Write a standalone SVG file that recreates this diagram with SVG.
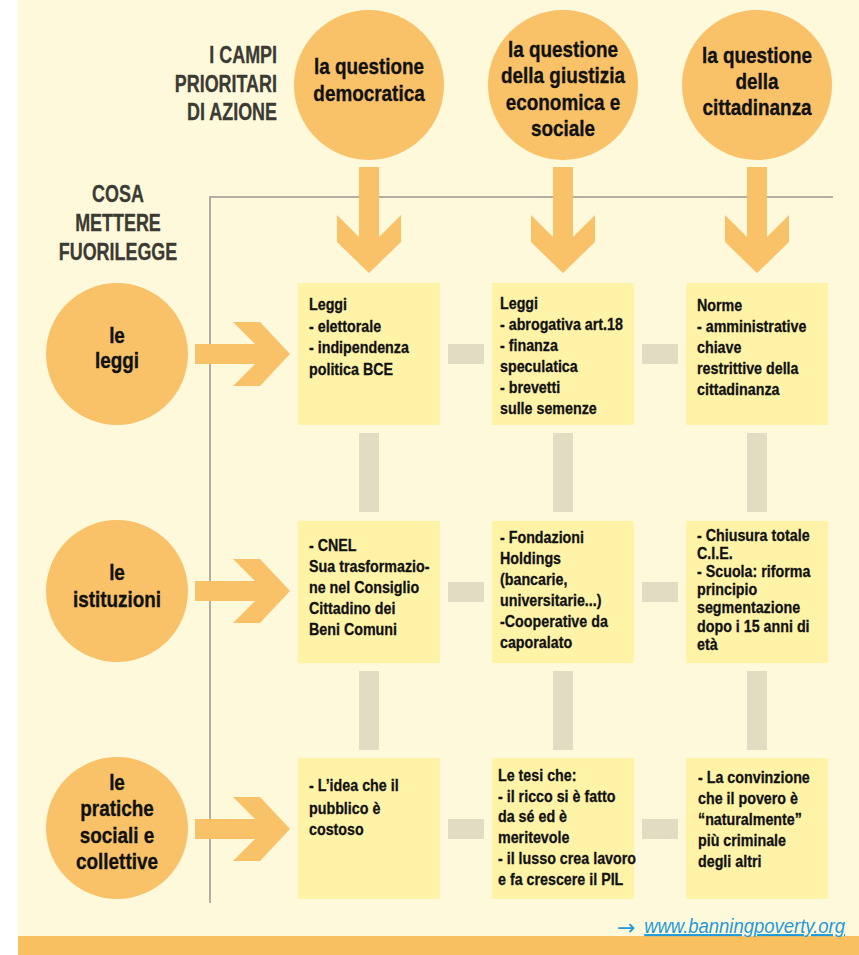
<svg xmlns="http://www.w3.org/2000/svg" width="859" height="955" viewBox="0 0 859 955">
  <style>
    text { font-family: "Liberation Sans", Arial, sans-serif; font-weight: bold; fill: #111; }
    .hdr { font-size: 23px; fill: #3b3a33; stroke: #3b3a33; stroke-width: 0.3; }
    .circ { fill: #F9C168; }
    .ctext { font-size: 22.5px; text-anchor: middle; stroke: #111; stroke-width: 0.35; }
    .box { fill: #FFF3A8; }
    .btext { font-size: 17px; stroke: #111; stroke-width: 0.3; }
    .link { fill: #E2DDC2; }
    .arrow { fill: #F9C168; }
    .frame { fill: none; stroke: #B3AE9F; stroke-width: 2; }
    .url { font-size: 21px; font-weight: normal; fill: #1E9AD8; }
    .urlarrow { font-family: "DejaVu Sans", sans-serif; font-size: 22px; font-weight: normal; fill: #1E9AD8; }
  </style>
  <defs>
    <path id="arrowDown" d="M-10,0 L10,0 L10,70 L32,48 L32,75 L0,106 L-32,75 L-32,48 L-10,70 Z"/>
    <path id="arrowRight" d="M0,-10 L60,-10 L38,-32 L65,-32 L95,0 L65,32 L38,32 L60,10 L0,10 Z"/>
  </defs>

  <!-- page background -->
  <rect x="0" y="0" width="859" height="955" fill="#ffffff"/>
  <rect x="18" y="0" width="841" height="955" fill="#FFF9DC"/>
  <rect x="18" y="936" width="841" height="19" fill="#F9C060"/>

  <!-- frame separating the grid from the headings -->
  <path class="frame" d="M210,903 L210,197 L833,197"/>

  <!-- side headings (condensed by horizontal scaling) -->
  <g id="heading-campi" transform="translate(277,0) scale(0.78,1)">
    <text class="hdr" text-anchor="end" x="0" y="63">I CAMPI</text>
    <text class="hdr" text-anchor="end" x="0" y="92">PRIORITARI</text>
    <text class="hdr" text-anchor="end" x="0" y="120">DI AZIONE</text>
  </g>
  <g id="heading-fuorilegge" transform="translate(118,0) scale(0.78,1)">
    <text class="hdr" text-anchor="middle" x="0" y="202">COSA</text>
    <text class="hdr" text-anchor="middle" x="0" y="231">METTERE</text>
    <text class="hdr" text-anchor="middle" x="0" y="260">FUORILEGGE</text>
  </g>

  <!-- connectors -->
  <g id="connectors">
    <!-- links between the cells -->
    <rect class="link" x="448" y="344" width="36" height="20"/>
    <rect class="link" x="642" y="344" width="36" height="20"/>
    <rect class="link" x="448" y="582" width="36" height="20"/>
    <rect class="link" x="642" y="582" width="36" height="20"/>
    <rect class="link" x="448" y="819" width="36" height="20"/>
    <rect class="link" x="642" y="819" width="36" height="20"/>
    <rect class="link" x="359" y="433" width="20" height="79"/>
    <rect class="link" x="553" y="433" width="20" height="79"/>
    <rect class="link" x="747" y="433" width="20" height="79"/>
    <rect class="link" x="359" y="671" width="20" height="79"/>
    <rect class="link" x="553" y="671" width="20" height="79"/>
    <rect class="link" x="747" y="671" width="20" height="79"/>
    <!-- arrows from the fields -->
    <use href="#arrowDown" class="arrow" x="369" y="167"/>
    <use href="#arrowDown" class="arrow" x="563" y="167"/>
    <use href="#arrowDown" class="arrow" x="757" y="167"/>
    <!-- arrows from the levels -->
    <use href="#arrowRight" class="arrow" x="195" y="354"/>
    <use href="#arrowRight" class="arrow" x="195" y="591"/>
    <use href="#arrowRight" class="arrow" x="195" y="829"/>
  </g>

  <!-- priority fields -->
  <g id="field-democratica">
    <circle class="circ" cx="369" cy="85" r="75"/>
    <g transform="translate(369,0) scale(0.84,1)">
      <text class="ctext" x="0" y="74">la questione</text>
      <text class="ctext" x="0" y="101">democratica</text>
    </g>
  </g>
  <g id="field-giustizia">
    <circle class="circ" cx="563" cy="85" r="75"/>
    <g transform="translate(563,0) scale(0.84,1)">
      <text class="ctext" x="0" y="57">la questione</text>
      <text class="ctext" x="0" y="83">della giustizia</text>
      <text class="ctext" x="0" y="110">economica e</text>
      <text class="ctext" x="0" y="136">sociale</text>
    </g>
  </g>
  <g id="field-cittadinanza">
    <circle class="circ" cx="757" cy="85" r="75"/>
    <g transform="translate(757,0) scale(0.84,1)">
      <text class="ctext" x="0" y="63">la questione</text>
      <text class="ctext" x="0" y="89">della</text>
      <text class="ctext" x="0" y="115">cittadinanza</text>
    </g>
  </g>

  <!-- levels -->
  <g id="level-leggi">
    <circle class="circ" cx="117" cy="354" r="71"/>
    <g transform="translate(117,0) scale(0.84,1)">
      <text class="ctext" x="0" y="343">le</text>
      <text class="ctext" x="0" y="368">leggi</text>
    </g>
  </g>
  <g id="level-istituzioni">
    <circle class="circ" cx="117" cy="591" r="71"/>
    <g transform="translate(117,0) scale(0.84,1)">
      <text class="ctext" x="0" y="580">le</text>
      <text class="ctext" x="0" y="607">istituzioni</text>
    </g>
  </g>
  <g id="level-pratiche">
    <circle class="circ" cx="117" cy="828" r="71"/>
    <g transform="translate(117,0) scale(0.84,1)">
      <text class="ctext" x="0" y="790">le</text>
      <text class="ctext" x="0" y="816">pratiche</text>
      <text class="ctext" x="0" y="843">sociali e</text>
      <text class="ctext" x="0" y="869">collettive</text>
    </g>
  </g>

  <!-- row 1: le leggi -->
  <g id="cell-leggi-democratica">
    <rect class="box" x="298" y="283" width="142" height="142"/>
    <g transform="translate(309,0) scale(0.84,1)">
      <text class="btext" x="0" y="310">Leggi</text>
      <text class="btext" x="0" y="332">- elettorale</text>
      <text class="btext" x="0" y="353">- indipendenza</text>
      <text class="btext" x="0" y="375">politica BCE</text>
    </g>
  </g>
  <g id="cell-leggi-giustizia">
    <rect class="box" x="492" y="283" width="142" height="142"/>
    <g transform="translate(500,0) scale(0.84,1)">
      <text class="btext" x="0" y="309">Leggi</text>
      <text class="btext" x="0" y="330">- abrogativa art.18</text>
      <text class="btext" x="0" y="351">- finanza</text>
      <text class="btext" x="0" y="372">speculatica</text>
      <text class="btext" x="0" y="393">- brevetti</text>
      <text class="btext" x="0" y="414">sulle semenze</text>
    </g>
  </g>
  <g id="cell-leggi-cittadinanza">
    <rect class="box" x="686" y="283" width="142" height="142"/>
    <g transform="translate(697,0) scale(0.84,1)">
      <text class="btext" x="0" y="311">Norme</text>
      <text class="btext" x="0" y="332">- amministrative</text>
      <text class="btext" x="0" y="353">chiave</text>
      <text class="btext" x="0" y="374">restrittive della</text>
      <text class="btext" x="0" y="395">cittadinanza</text>
    </g>
  </g>

  <!-- row 2: le istituzioni -->
  <g id="cell-istituzioni-democratica">
    <rect class="box" x="298" y="521" width="142" height="142"/>
    <g transform="translate(309,0) scale(0.84,1)">
      <text class="btext" x="0" y="551">- CNEL</text>
      <text class="btext" x="0" y="572">Sua trasformazio-</text>
      <text class="btext" x="0" y="593">ne nel Consiglio</text>
      <text class="btext" x="0" y="614">Cittadino dei</text>
      <text class="btext" x="0" y="635">Beni Comuni</text>
    </g>
  </g>
  <g id="cell-istituzioni-giustizia">
    <rect class="box" x="492" y="521" width="142" height="142"/>
    <g transform="translate(500,0) scale(0.84,1)">
      <text class="btext" x="0" y="543">- Fondazioni</text>
      <text class="btext" x="0" y="564">Holdings</text>
      <text class="btext" x="0" y="585">(bancarie,</text>
      <text class="btext" x="0" y="606">universitarie...)</text>
      <text class="btext" x="0" y="627">-Cooperative da</text>
      <text class="btext" x="0" y="648">caporalato</text>
    </g>
  </g>
  <g id="cell-istituzioni-cittadinanza">
    <rect class="box" x="686" y="521" width="142" height="142"/>
    <g transform="translate(697,0) scale(0.84,1)">
      <text class="btext" x="0" y="541">- Chiusura totale</text>
      <text class="btext" x="0" y="559">C.I.E.</text>
      <text class="btext" x="0" y="577">- Scuola: riforma</text>
      <text class="btext" x="0" y="595">principio</text>
      <text class="btext" x="0" y="613">segmentazione</text>
      <text class="btext" x="0" y="632">dopo i 15 anni di</text>
      <text class="btext" x="0" y="650">età</text>
    </g>
  </g>

  <!-- row 3: le pratiche sociali e collettive -->
  <g id="cell-pratiche-democratica">
    <rect class="box" x="298" y="758" width="142" height="141"/>
    <g transform="translate(309,0) scale(0.84,1)">
      <text class="btext" x="0" y="791">- L’idea che il</text>
      <text class="btext" x="0" y="814">pubblico è</text>
      <text class="btext" x="0" y="835">costoso</text>
    </g>
  </g>
  <g id="cell-pratiche-giustizia">
    <rect class="box" x="492" y="758" width="142" height="141"/>
    <g transform="translate(498,0) scale(0.84,1)">
      <text class="btext" x="0" y="781">Le tesi che:</text>
      <text class="btext" x="0" y="802">- il ricco si è fatto</text>
      <text class="btext" x="0" y="822">da sé ed è</text>
      <text class="btext" x="0" y="843">meritevole</text>
      <text class="btext" x="0" y="864">- il lusso crea lavoro</text>
      <text class="btext" x="0" y="885">e fa crescere il PIL</text>
    </g>
  </g>
  <g id="cell-pratiche-cittadinanza">
    <rect class="box" x="686" y="758" width="142" height="141"/>
    <g transform="translate(698,0) scale(0.84,1)">
      <text class="btext" x="0" y="783">- La convinzione</text>
      <text class="btext" x="0" y="804">che il povero è</text>
      <text class="btext" x="0" y="825">“naturalmente”</text>
      <text class="btext" x="0" y="846">più criminale</text>
      <text class="btext" x="0" y="867">degli altri</text>
    </g>
  </g>

  <!-- source link -->
  <g id="source-link">
    <text class="urlarrow" x="617" y="935">→</text>
    <g transform="translate(845,0) scale(0.88,1)">
      <text class="url" x="0" y="933" text-anchor="end" font-style="italic" text-decoration="underline">www.banningpoverty.org</text>
    </g>
  </g>
</svg>
